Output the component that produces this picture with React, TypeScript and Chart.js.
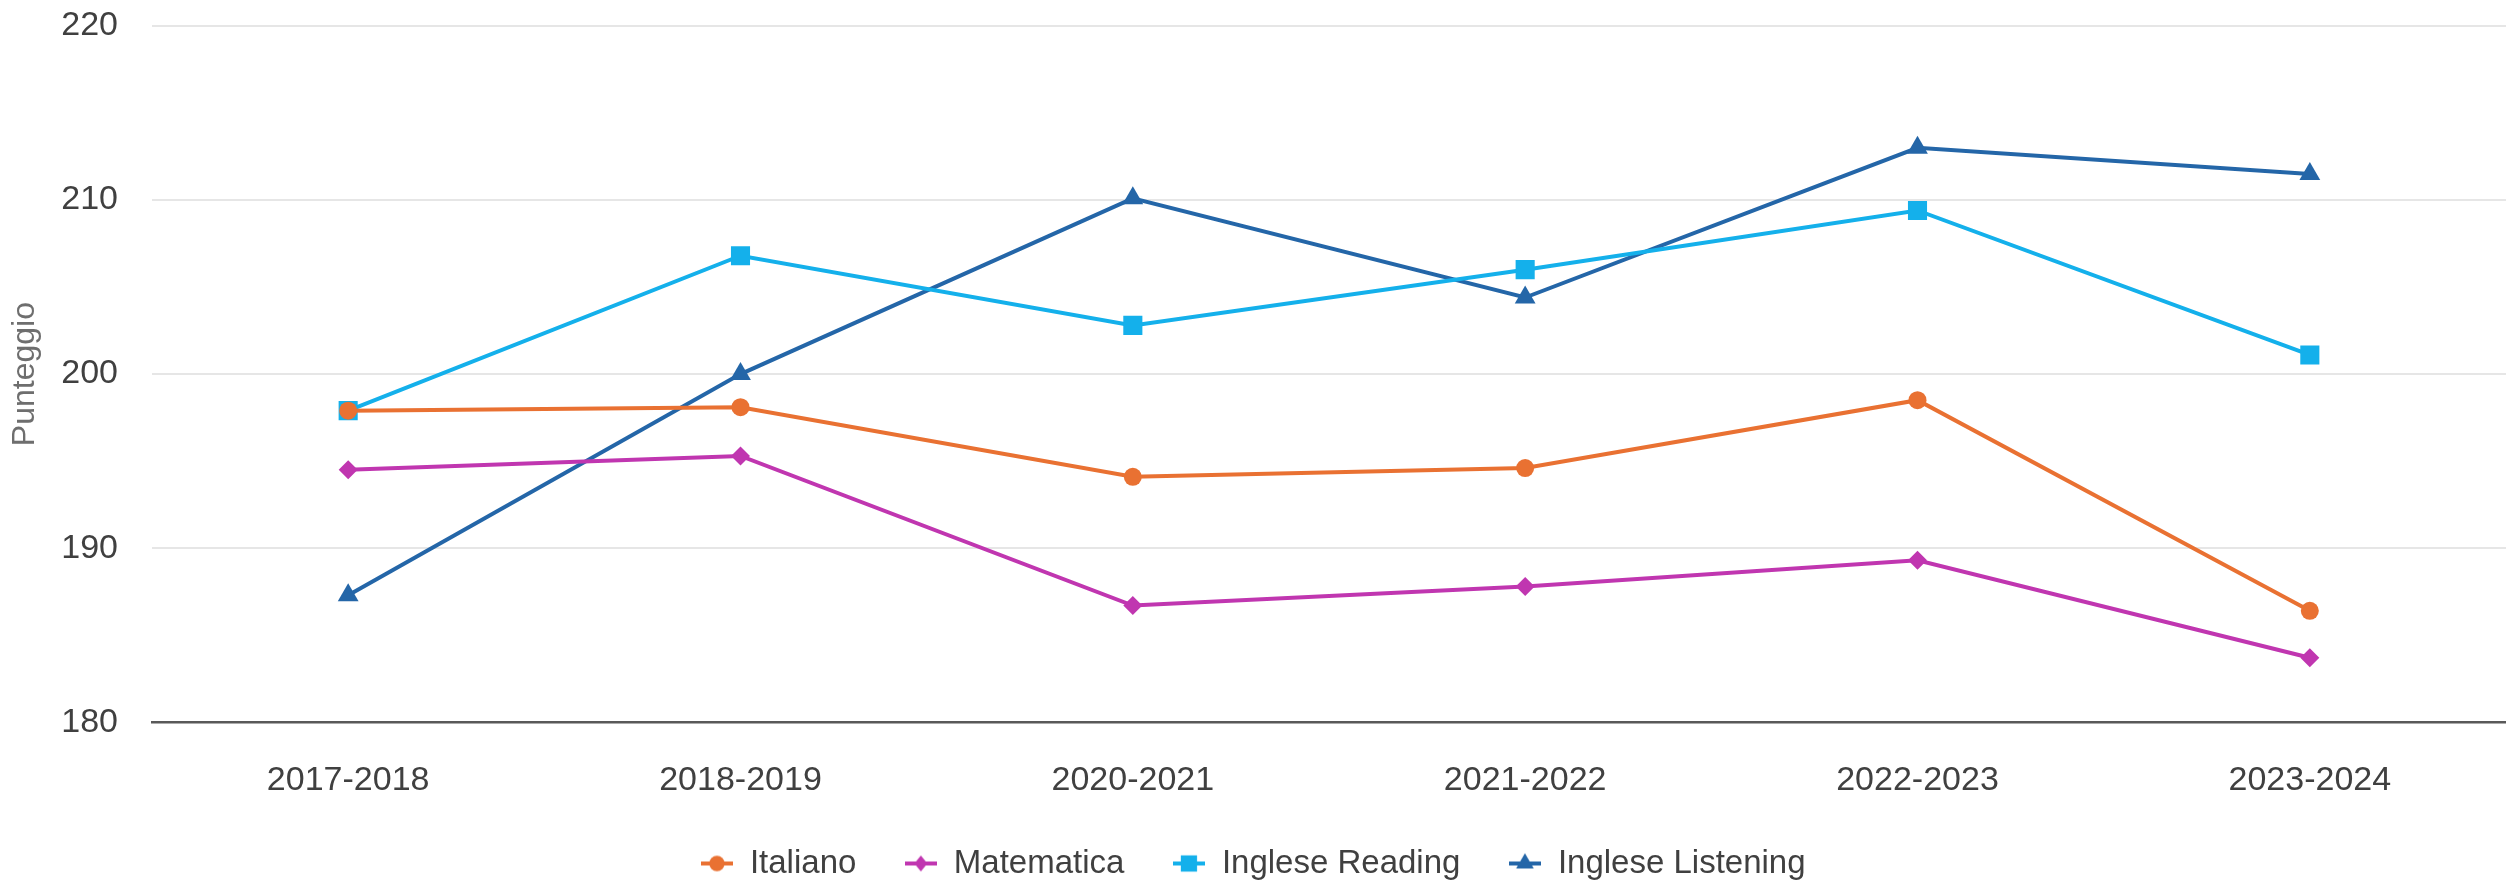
import React, { useEffect, useRef } from "react";
import { Chart, registerables } from "chart.js";

Chart.register(...registerables);

const categories = ["2017-2018", "2018-2019", "2020-2021", "2021-2022", "2022-2023", "2023-2024"];
const italiano = [197.9, 198.1, 194.1, 194.6, 198.5, 186.4];
const matematica = [194.5, 195.3, 186.7, 187.8, 189.3, 183.7];
const ingleseReading = [197.9, 206.8, 202.8, 206.0, 209.4, 201.1];
const ingleseListening = [187.3, 200.0, 210.1, 204.4, 213.0, 211.5];
const seriesNames = ["Italiano", "Matematica", "Inglese Reading", "Inglese Listening"];
const yTicks = [180, 190, 200, 210, 220];

const colors = ["#E97132", "#C036B0", "#14B0EB", "#2466A8"];
const styles = ["circle", "rectRot", "rect", "triangle"];
const radii = [9, 9.5, 13.5, 12];

function legendIcon(color: string, style: string, r: number) {
  const c = document.createElement("canvas");
  c.width = 32;
  c.height = 30;
  const ctx = c.getContext("2d")!;
  ctx.strokeStyle = color;
  ctx.lineWidth = 4;
  ctx.beginPath();
  ctx.moveTo(0, 15);
  ctx.lineTo(32, 15);
  ctx.stroke();
  ctx.fillStyle = color;
  const x = 16, y = 15;
  ctx.beginPath();
  if (style === "circle") {
    ctx.arc(x, y, r, 0, Math.PI * 2);
  } else if (style === "rectRot") {
    ctx.moveTo(x, y - r);
    ctx.lineTo(x + r * 0.8, y);
    ctx.lineTo(x, y + r);
    ctx.lineTo(x - r * 0.8, y);
    ctx.closePath();
  } else if (style === "rect") {
    const s = Math.SQRT1_2 * r;
    ctx.rect(x - s, y - s, 2 * s, 2 * s);
  } else {
    ctx.moveTo(x, y - r);
    ctx.lineTo(x + r * 0.866, y + r * 0.5);
    ctx.lineTo(x - r * 0.866, y + r * 0.5);
    ctx.closePath();
  }
  ctx.fill();
  return c;
}

export default function App() {
  const ref = useRef<HTMLCanvasElement | null>(null);
  useEffect(() => {
    document.body.style.margin = "0";
    document.documentElement.style.overflow = "hidden";
    document.body.style.overflow = "hidden";
    const data = [italiano, matematica, ingleseReading, ingleseListening];
    const icons = seriesNames.map((_, i) => legendIcon(colors[i], styles[i], radii[i] * 0.85));
    const font = "Arial, 'Liberation Sans', sans-serif";
    const chart = new Chart(ref.current!, {
      type: "line",
      data: {
        labels: categories,
        datasets: seriesNames.map((name, i) => ({
          label: name,
          data: data[i],
          borderColor: colors[i],
          backgroundColor: colors[i],
          borderWidth: 4,
          pointStyle: styles[i] as any,
          pointRadius: radii[i],
          pointBorderWidth: 0,
          pointBackgroundColor: colors[i],
          tension: 0,
        })),
      },
      options: {
        animation: false,
        responsive: true,
        maintainAspectRatio: false,
        layout: { autoPadding: false, padding: { top: 26, left: 0, right: 0, bottom: -7 } },
        plugins: {
          tooltip: { enabled: false },
          legend: {
            position: "bottom",
            labels: {
              usePointStyle: true,
              padding: 48,
              color: "#404040",
              font: { family: font, size: 33 },
              generateLabels: () =>
                seriesNames.map((name, i) => ({
                  text: name,
                  fillStyle: colors[i],
                  strokeStyle: colors[i],
                  lineWidth: 0,
                  pointStyle: icons[i],
                  datasetIndex: i,
                  hidden: false,
                  fontColor: "#404040",
                })),
            },
          },
        },
        scales: {
          x: {
            offset: true,
            grid: { display: false, drawTicks: false },
            border: { display: true, color: "#595959", width: 2.5 },
            ticks: { color: "#404040", font: { family: font, size: 34 }, padding: 38, maxRotation: 0 },
            afterFit: (s: any) => {
              s.height = s.height - 40;
              s.paddingLeft = 0;
              s.paddingRight = 0;
            },
          },
          y: {
            min: 180,
            max: 220,
            afterBuildTicks: (s: any) => {
              s.ticks = yTicks.map((v) => ({ value: v }));
            },
            afterFit: (s: any) => {
              s.width = 152;
              s.paddingTop = 0;
              s.paddingBottom = 0;
            },
            grid: { color: "#E6E6E6", lineWidth: 2, drawTicks: false },
            border: { display: false },
            ticks: { color: "#404040", font: { family: font, size: 34 }, padding: 34 },
            title: {
              display: true,
              text: "Punteggio",
              color: "#6E6E6E",
              font: { family: font, size: 32 },
              padding: { top: 6, bottom: 0 },
            },
          },
        },
      },
    });
    return () => chart.destroy();
  }, []);
  return (
    <div style={{ width: 2506, height: 883, position: "relative" }}>
      <canvas ref={ref} />
    </div>
  );
}
